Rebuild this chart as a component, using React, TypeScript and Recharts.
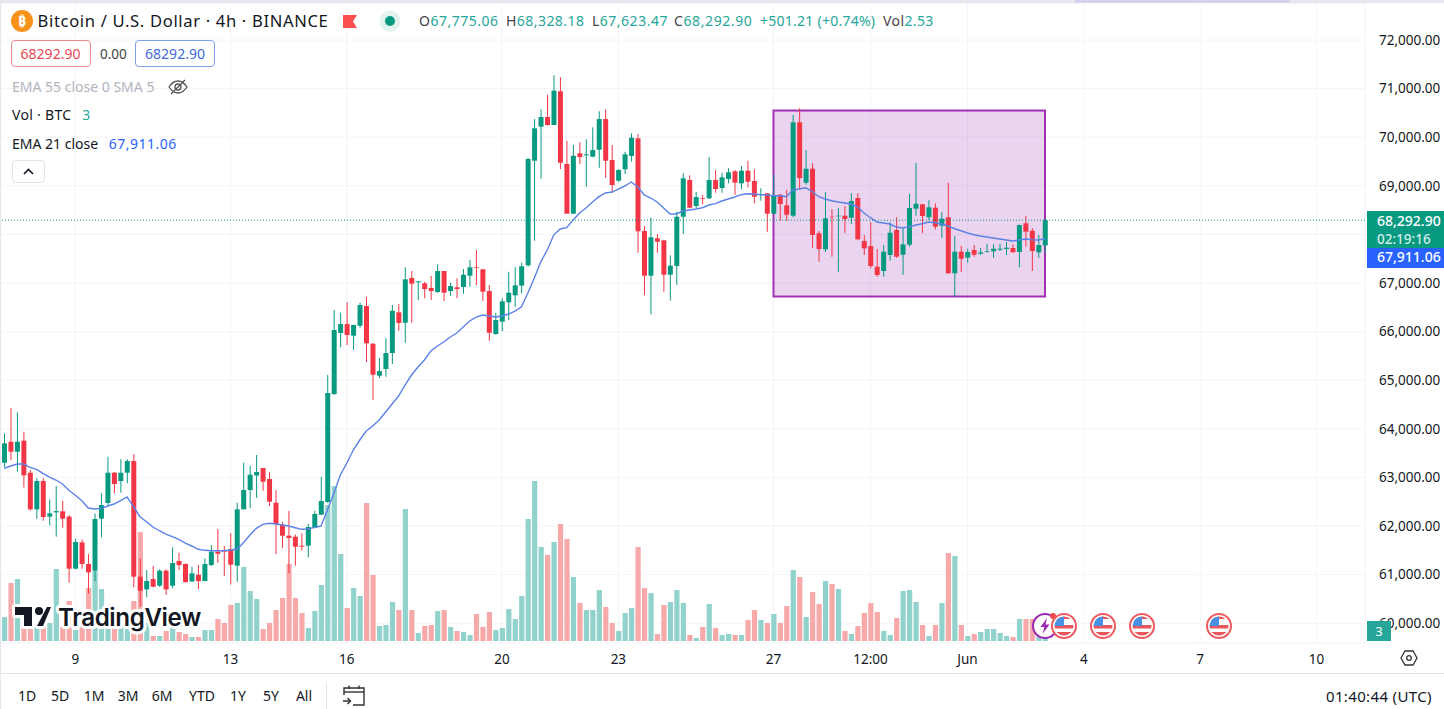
import React from "react";
import { ComposedChart, Bar, Line, XAxis, YAxis, CartesianGrid, ReferenceArea, ReferenceLine, Cell } from "recharts";

const opens = [
63303,63735,63529,63756,63097,62343,62926,62192,62281,62302,
62192,61122,61664,61218,61088,62151,62473,63097,62926,63097,
63337,60957,60696,60909,60772,61081,60772,61280,61218,60861,
60998,60868,61197,61472,61506,61526,61184,62343,62740,63042,
63193,62967,62480,62027,61801,61780,61595,61595,61965,62233,
62494,64716,65971,66156,65916,66121,66527,65751,65093,65231,
65560,66397,66183,67103,67014,66994,66897,66815,67247,66835,
66912,66918,67150,67323,67282,66835,65951,66204,66603,66747,
66945,67364,69516,70216,70416,70251,70944,69449,68426,69669,
69627,69599,69743,70374,69531,69105,69339,69613,69977,68070,
67150,67920,67878,67171,67350,68364,69119,68584,68749,68743,
69119,68955,69140,69298,69051,69311,69099,68811,68846,68426,
68817,68599,68385,70307,69064,69352,68023,67693,68364,68372,
68385,68344,68749,67864,67761,67335,67247,67576,68090,67582,
67788,68529,68619,68352,68549,68179,68352,67200,67644,67521,
67679,67603,67638,67652,67685,67700,67720,67638,68228,68076,
67632,67775];
const closes = [
63701,63529,63735,63042,62343,62926,62185,62260,62308,62151,
61122,61671,61218,61046,62144,62432,63097,62864,63097,63337,
60957,60669,60868,60751,61081,60696,61238,61197,60847,61026,
60868,61218,61472,61430,61472,61204,62343,62740,63056,63111,
62912,62500,62041,61801,61753,61575,61575,61979,62247,62514,
64737,66033,66156,65930,66136,66547,65759,65113,65189,65560,
66430,66177,67076,66986,67035,66876,66835,67247,66801,66938,
66876,67171,67323,67309,66821,65977,66239,66623,66801,66953,
67344,69552,70183,70416,70251,70957,69475,68426,69619,69593,
69648,69737,70374,69516,69017,69325,69648,69990,68064,67150,
67940,67850,67171,67356,68364,69154,68549,68770,68735,69119,
68934,69175,69278,69064,69311,69084,68776,68831,68426,68791,
68625,68405,70307,69160,69352,67988,67700,68331,68352,68385,
68317,68687,67899,67714,67350,67165,67644,68035,67541,67796,
68543,68632,68379,68558,68158,68323,67200,67644,67500,67638,
67582,67632,67652,67706,67706,67726,67632,68193,68056,67659,
67782,68293];
const highs = [
63907,64435,64339,63941,63152,62981,62981,62548,62823,62521,
62226,61739,61725,61424,62260,62672,63426,63118,63372,63372,
63481,61334,61094,61177,61108,61108,61561,61451,61232,61163,
61197,61334,61609,61938,61588,61849,62480,63303,63241,63461,
63193,63104,62740,62089,62308,61828,61849,62041,62315,63015,
65107,66444,66389,66603,66146,66595,66718,65765,65457,65862,
66547,66568,67323,67247,67041,67027,67144,67385,67247,67006,
67097,67288,67473,67679,67288,66959,66389,66685,67232,67323,
67418,69572,70374,70574,70868,71274,71232,69928,69840,69895,
69957,70204,70533,70574,69840,69346,69702,70080,70066,68173,
68344,68008,67885,67570,68467,69257,69216,68879,68817,69586,
69325,69270,69360,69325,69407,69516,69340,68948,68850,69222,
68831,68914,70457,70595,69737,69463,68070,68866,68516,68537,
68584,68846,68846,67988,68249,67700,67782,68249,68352,68125,
68831,69469,68625,68702,68640,68461,69064,67967,67767,67706,
67782,67726,67808,67796,67808,67844,67796,68204,68385,68125,
67988,68328];
const lows = [
63207,63358,63118,62795,62315,62151,62110,62013,61780,61965,
60834,61108,61122,60614,60868,61767,62432,62672,62686,62878,
60738,60340,60532,60738,60751,60580,60717,61094,60834,60847,
60703,60861,61177,61245,60971,60799,60854,62343,62370,62576,
62727,62411,61417,61547,61026,61184,61492,61355,61952,62226,
62473,64695,65677,65724,65621,66080,65368,64593,65039,65072,
65333,66019,65772,66183,66650,66685,66650,66801,66630,66739,
66685,66780,66924,66959,66630,65813,65936,66006,66239,66512,
66788,67335,67870,69146,70237,70251,69346,68426,68426,69449,
68982,69586,69372,69160,68858,69084,69243,69496,67623,66747,
66356,67623,66821,66636,66959,68008,68537,68543,68619,68728,
68858,68858,69051,68811,68928,68969,68640,68693,68056,68414,
68282,68282,68352,68948,69023,67726,67438,67638,67541,67232,
68035,68208,67885,67576,67302,67130,67130,67459,67521,67171,
67747,68385,68023,68296,68105,67926,67195,66718,67226,67418,
67541,67576,67624,67521,67659,67576,67628,67323,67747,67247,
67521,67623];
const volumes = [
12,29,31,7,7,7,7,9,36,7,
20,5.5,7,26.5,35.5,26,7,7,7,7,
20,54.5,14,2.5,2.5,5,6.5,4.5,3.5,2,
2,5.5,5.5,11,9,18,19,37,25,21,
6,9,15.5,21.5,38.5,21.5,14,6.5,15,28,
68,77.5,43.5,16.5,26.5,22.5,69,33,7.5,8,
19.5,15.5,66,15.5,4,7.5,8,15,15.5,7,
5,4.5,3,13.5,7,14.5,5.5,6.5,16,11,
22.5,61,80,47,43,49.5,58.5,51,32,19,
15.5,15.5,25.5,17,9,5,14,16.5,47,26.5,
24,3.5,18,19.5,25.5,19,3,1.5,7,18.5,
6.5,3,3.5,3,3,10.5,15.5,10.5,9,13.5,
9,17.5,35.5,32,12,24.5,18.5,30,28.5,26,
5,3.5,7.5,14,19,14.5,5,3,11.5,25,
25.5,19.5,8,2.5,8,19,44,42.5,8,2.5,
3.5,4.5,6,6,4,2.5,2,11,11,11,
2,2.53];
const ema21 = [
63187,63235,63276,63276,63208,63167,63085,63008,62947,62864,
62735,62632,62521,62370,62350,62364,62412,62453,62521,62597,
62397,62191,62089,61980,61903,61835,61780,61726,61650,61589,
61521,61500,61492,61492,61492,61506,61521,61657,61815,61953,
62035,62056,62041,62021,62000,61965,61932,61938,61973,62000,
62329,62679,63049,63296,63564,63770,63955,64058,64181,64346,
64510,64675,64901,65107,65272,65416,65601,65704,65786,65889,
65971,66095,66218,66300,66342,66321,66300,66321,66362,66424,
66507,66794,67103,67438,67679,67987,68111,68138,68296,68440,
68543,68667,68776,68852,68872,68934,68996,69078,68981,68811,
68749,68667,68543,68420,68420,68481,68502,68522,68549,68605,
68632,68687,68728,68770,68817,68837,68831,68817,68811,68796,
68796,68776,68914,68934,68961,68879,68776,68728,68693,68667,
68646,68625,68564,68440,68344,68255,68235,68214,68152,68132,
68158,68193,68220,68255,68241,68214,68173,68117,68076,68029,
67994,67967,67947,67926,67905,67885,67864,67885,67905,67891,
67885,67911];

const SLOTS = 211;
const priceTicks = [60000,61000,62000,63000,64000,65000,66000,67000,68000,69000,70000,71000,72000];
const coveredPriceTick = 68000; // hidden behind the last-price labels in the reference
const timeTickSlots = [11,35,53,77,95,119,134,149,167,185,203];
const timeTickLabels = ["9","13","16","20","23","27","12:00","Jun","4","7","10"];
const lastPrice = 68292.9;
const boxTop = 70549;
const boxBottom = 66722;
const boxFirstSlot = 119;
const boxLastSlot = 161;
const rangeButtons = ["1D","5D","1M","3M","6M","YTD","1Y","5Y","All"];
const rangeCenters = [27,60,94,128,162,202,238,271,304];
const eventFlags = [1064,1103,1142,1219];

const GREEN = "#089981";
const RED = "#f23645";
const VOL_GREEN = "#92d2cc";
const VOL_RED = "#f7a9a9";
const GRID = "#f3f4f8";
const FONT = "'Noto Sans', 'Open Sans', sans-serif";

const rows = Array.from({ length: SLOTS }, (_, i) => {
  if (i >= opens.length) return { slot: i, wick: null, body: null, vol: null, ema: null };
  return {
    slot: i,
    wick: [lows[i], highs[i]],
    body: [Math.min(opens[i], closes[i]), Math.max(opens[i], closes[i])],
    vol: [0, volumes[i]],
    ema: ema21[i],
  };
});

const isUp = (i: number) => closes[i] >= opens[i];
const priceText = (v: number) => v === coveredPriceTick ? "" : v.toLocaleString("en-US", { minimumFractionDigits: 2, maximumFractionDigits: 2 });

const abs = (left: number, top: number, extra: React.CSSProperties = {}): React.CSSProperties => ({
  position: "absolute", left, top, whiteSpace: "nowrap", fontFamily: FONT, ...extra,
});

function T({ x, y, size = 14, color = "#131722", children, center, ls }: any) {
  return (
    <div style={abs(x, y, { fontSize: size, color, lineHeight: "20px", height: 20, marginTop: -10, letterSpacing: ls, transform: center ? "translateX(-50%)" : undefined })}>
      {children}
    </div>
  );
}

function Flag({ x }: { x: number }) {
  return (
    <svg style={{ position: "absolute", left: x - 14, top: 612 }} width="28" height="28" viewBox="0 0 28 28">
      <circle cx="14" cy="14" r="12" fill="#fff" stroke="#ee5a5f" strokeWidth="2" />
      <clipPath id={"fc" + x}><circle cx="14" cy="14" r="9.5" /></clipPath>
      <g clipPath={`url(#fc${x})`}>
        <rect x="3" y="4" width="22" height="3" fill="#e9575c" />
        <rect x="3" y="13" width="22" height="3.5" fill="#e9575c" />
        <rect x="3" y="20" width="22" height="4" fill="#e9575c" />
        <rect x="3" y="4" width="11" height="10" fill="#4a90e2" />
      </g>
    </svg>
  );
}

function BoxShape(p: any) {
  const inset = (p.width / (boxLastSlot - boxFirstSlot + 1)) / 2;
  return (
    <rect
      x={p.x + inset}
      y={p.y}
      width={p.width - inset * 2}
      height={p.height}
      fill="#9c27b0"
      fillOpacity={0.2}
      stroke="#9c27b0"
      strokeWidth={2}
      strokeOpacity={0.95}
    />
  );
}

function Overlay() {
  return (
    <>
      {/* top frame */}
      <div style={abs(0, 0, { width: 1444, height: 3, background: "#e6e8ee" })} />
      <div style={abs(1075, 0, { width: 215, height: 3, background: "#d5d3ec" })} />
      <div style={abs(0, 0, { width: 1, height: 709, background: "#e6e8ee" })} />

      {/* symbol line */}
      <svg style={{ position: "absolute", left: 11, top: 10 }} width="22" height="22" viewBox="0 0 22 22">
        <circle cx="11" cy="11" r="11" fill="#f7931a" />
        <text x="11" y="16" fontSize="14" fontWeight="700" textAnchor="middle" fill="#fff" fontFamily={FONT}>₿</text>
      </svg>
      <T x={37.5} y={21} size={16.6} ls={0.66}>Bitcoin / U.S. Dollar · 4h · BINANCE</T>
      <svg style={{ position: "absolute", left: 342, top: 14 }} width="16" height="15" viewBox="0 0 16 15">
        <path d="M1 1H15L11 7.5L15 14H1Z" fill="#f9504f" />
      </svg>
      <svg style={{ position: "absolute", left: 379, top: 10 }} width="22" height="22" viewBox="0 0 22 22">
        <circle cx="11" cy="11" r="10.5" fill="#e3f3f0" />
        <circle cx="11" cy="11" r="5" fill={GREEN} />
      </svg>
      <T x={419} y={21} color="#26a69a" ls={0.5}><span style={{ color: "#444" }}>O</span>67,775.06</T>
      <T x={506} y={21} color="#26a69a" ls={0.45}><span style={{ color: "#444" }}>H</span>68,328.18</T>
      <T x={592} y={21} color="#26a69a" ls={0.5}><span style={{ color: "#444" }}>L</span>67,623.47</T>
      <T x={674} y={21} color="#26a69a" ls={0.6}><span style={{ color: "#444" }}>C</span>68,292.90</T>
      <T x={760} y={21} color="#26a69a" ls={0.25}>+501.21 (+0.74%)</T>
      <T x={883} y={21} color="#26a69a" ls={0.4}><span style={{ color: "#444" }}>Vol</span>2.53</T>

      {/* bid / ask */}
      <div style={abs(10.5, 40, { width: 80, height: 27, boxSizing: "border-box", border: "1px solid #ec8a90", borderRadius: 4, textAlign: "center", fontSize: 14, lineHeight: "25px", color: "#e5474f", background: "#fff" })}>68292.90</div>
      <T x={100} y={54} size={13.5} color="#444">0.00</T>
      <div style={abs(135, 40, { width: 80, height: 27, boxSizing: "border-box", border: "1px solid #7f9ee8", borderRadius: 4, textAlign: "center", fontSize: 14, lineHeight: "25px", color: "#3f6ad8", background: "#fff" })}>68292.90</div>

      {/* indicators */}
      <T x={12} y={87} color="#b2b5be">EMA 55 close 0 SMA 5</T>
      <svg style={{ position: "absolute", left: 167, top: 77 }} width="22" height="20" viewBox="0 0 22 20" fill="none" stroke="#555" strokeWidth="1.3">
        <path d="M2 10C5 5.5 8 4 11 4C14 4 17 5.5 20 10C17 14.5 14 16 11 16C8 16 5 14.5 2 10Z" />
        <circle cx="11" cy="10" r="3" />
        <path d="M4 17L18 3" />
      </svg>
      <T x={12} y={115} ls={0.3}>Vol · BTC <span style={{ color: "#26a69a", marginLeft: 7 }}>3</span></T>
      <T x={12} y={144}>EMA 21 close <span style={{ color: "#2962ff", marginLeft: 7, letterSpacing: 0.5 }}>67,911.06</span></T>
      <div style={abs(11.5, 160, { width: 33, height: 23, boxSizing: "border-box", border: "1px solid #e0e3eb", borderRadius: 4, background: "#fff" })}>
        <svg width="31" height="21" viewBox="0 0 31 21"><path d="M11 13L15.5 8.5L20 13" fill="none" stroke="#131722" strokeWidth="1.6" /></svg>
      </div>

      {/* last price labels */}
      <div style={abs(1367, 211, { width: 77, height: 37, background: GREEN, color: "#fff", fontSize: 14, lineHeight: "17.5px", paddingTop: 1, paddingLeft: 10, boxSizing: "border-box", fontWeight: 500 })}>
        68,292.90<br /><span style={{ color: "#d3efe9", fontSize: 13.5 }}>02:19:16</span>
      </div>
      <div style={abs(1367, 248, { width: 77, height: 19.5, background: "#2962ff", color: "#fff", paddingLeft: 10, boxSizing: "border-box", fontSize: 14, lineHeight: "18px", fontWeight: 500 })}>67,911.06</div>
      <div style={abs(1367, 621, { width: 24, height: 20, background: "#26a69a", color: "#fff", textAlign: "center", fontSize: 13, lineHeight: "20px" })}>3</div>

      {/* TradingView mark */}
      <svg style={{ position: "absolute", left: 10, top: 600 }} width="200" height="36" viewBox="0 0 200 36">
        <g fill="#fff" stroke="#fff" strokeWidth="6" strokeLinejoin="round">
          <path d="M5 7H22V26H14V15H5Z" /><circle cx="29" cy="11" r="4" /><path d="M37 7H41L33 26H28Z" />
        </g>
        <text x="48" y="26" fontSize="24.2" fontWeight="600" fontFamily="Inter" fill="#131722" stroke="#fff" strokeWidth="6" paintOrder="stroke" strokeLinejoin="round" letterSpacing="-0.4">TradingView</text>
        <g fill="#131722">
          <path d="M5 7H22V26H14V15H5Z" /><circle cx="29" cy="11" r="4" /><path d="M37 7H41L33 26H27Z" />
        </g>
      </svg>

      {/* events */}
      <svg style={{ position: "absolute", left: 1031, top: 612 }} width="28" height="28" viewBox="0 0 28 28">
        <circle cx="14" cy="14" r="12" fill="#fff" stroke="#9c27b0" strokeWidth="2" />
        <path d="M16 6L9.5 15H13.5L11.5 22L18.5 12.5H14.5Z" fill="#9c27b0" />
      </svg>
      <svg style={{ position: "absolute", left: 1049, top: 612 }} width="8" height="8"><circle cx="4" cy="4" r="3" fill="#ea4a50" /></svg>
      {eventFlags.map((x) => <Flag key={x} x={x} />)}

      {/* axis settings */}
      <svg style={{ position: "absolute", left: 1399, top: 648 }} width="20" height="20" viewBox="0 0 20 20" fill="none" stroke="#333" strokeWidth="1.3">
        <path d="M6 3H14L18 10L14 17H6L2 10Z" /><circle cx="10" cy="10" r="2.3" />
      </svg>

      {/* bottom toolbar */}
      <div style={abs(0, 673, { width: 1444, height: 1, background: "#e0e3eb" })} />
      {rangeButtons.map((b, i) => <T key={b} x={rangeCenters[i]} y={696} size={14} center>{b}</T>)}
      <div style={abs(326, 683, { width: 1, height: 26, background: "#e0e3eb" })} />
      <svg style={{ position: "absolute", left: 342, top: 684 }} width="24" height="24" viewBox="0 0 24 24" fill="none" stroke="#333" strokeWidth="1.4">
        <path d="M2 11V4H22V21H11" /><path d="M2 8H22" /><path d="M7 1.5V5M17 1.5V5" /><path d="M1 17H8M5.5 14L8.5 17L5.5 20" />
      </svg>
      <T x={1326} y={696} size={15} ls={0.35}>01:40:44 (UTC)</T>
    </>
  );
}

export default function App() {
  return (
    <div style={{ position: "absolute", left: 0, top: 0, width: 1444, height: 709, background: "#fff", overflow: "hidden" }}>
      <ComposedChart
        width={1444}
        height={709}
        data={rows}
        margin={{ top: 4, right: 0, bottom: 36, left: 1 }}
        barCategoryGap={0}
        style={{ position: "absolute", left: 0, top: 0 }}
      >
        <XAxis xAxisId="bodyAxis" dataKey="slot" type="category" hide height={0} />
        <XAxis xAxisId="volAxis" dataKey="slot" type="category" hide height={0} />
        <XAxis
          xAxisId="time"
          dataKey="slot"
          type="category"
          ticks={timeTickSlots}
          interval={0}
          tickFormatter={(v: number) => timeTickLabels[timeTickSlots.indexOf(v)] ?? ""}
          height={30}
          axisLine={false}
          tickLine={false}
          tickMargin={5}
          tick={{ fontSize: 13.5, fill: "#131722", fontFamily: FONT }}
        />
        <YAxis
          yAxisId="price"
          orientation="right"
          type="number"
          domain={[59593, 72741]}
          allowDataOverflow
          ticks={priceTicks}
          interval={0}
          width={79}
          axisLine={false}
          tickLine={false}
          tickMargin={8}
          tickFormatter={priceText}
          tick={{ fontSize: 13.5, fill: "#131722", fontFamily: FONT }}
        />
        <YAxis yAxisId="vol" hide type="number" domain={[-1, 318.5]} allowDataOverflow />
        <CartesianGrid xAxisId="time" yAxisId="price" stroke={GRID} strokeWidth={1} />

        <Bar xAxisId="volAxis" yAxisId="vol" dataKey="vol" barSize={5.2} isAnimationActive={false}>
          {rows.map((r, i) => <Cell key={i} fill={i < opens.length && isUp(i) ? VOL_GREEN : VOL_RED} />)}
        </Bar>
        <Bar xAxisId="time" yAxisId="price" dataKey="wick" barSize={1} isAnimationActive={false}>
          {rows.map((r, i) => <Cell key={i} fill={i < opens.length && isUp(i) ? GREEN : RED} />)}
        </Bar>
        <Bar xAxisId="bodyAxis" yAxisId="price" dataKey="body" barSize={5} isAnimationActive={false}>
          {rows.map((r, i) => <Cell key={i} fill={i < opens.length && isUp(i) ? GREEN : RED} />)}
        </Bar>
        <Line xAxisId="time" yAxisId="price" dataKey="ema" stroke="#5b82e6" strokeWidth={1.4} dot={false} isAnimationActive={false} connectNulls={false} />
        <ReferenceLine xAxisId="time" yAxisId="price" y={lastPrice} stroke={GREEN} strokeDasharray="1 2" strokeWidth={1} />
        <ReferenceArea
          xAxisId="time"
          yAxisId="price"
          x1={boxFirstSlot}
          x2={boxLastSlot}
          y1={boxTop}
          y2={boxBottom}
          shape={BoxShape}
        />
      </ComposedChart>
      <Overlay />
    </div>
  );
}
